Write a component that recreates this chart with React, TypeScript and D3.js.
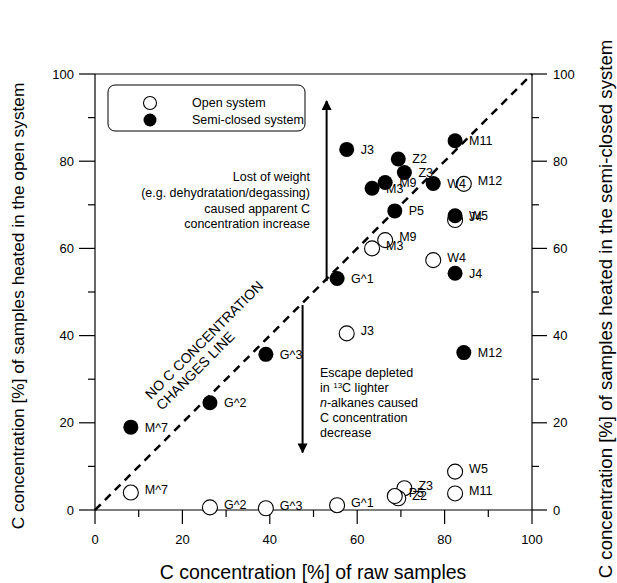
import React from "react";
import * as d3 from "d3";

const labels = ["M^7", "G^2", "G^3", "G^1", "J3", "M3", "M9", "W4", "J4", "M12", "W5", "M11", "Z3", "Z2", "P5"];
const rawC = [8.2, 26.3, 39.1, 55.4, 57.6, 63.4, 66.4, 77.4, 82.4, 84.4, 82.4, 82.4, 70.8, 69.4, 68.6];
const openC = [4.0, 0.6, 0.4, 1.1, 40.5, 60.0, 61.9, 57.3, 66.5, 74.8, 8.8, 3.8, 5.0, 2.7, 3.2];
const semiC = [19.0, 24.6, 35.7, 53.1, 82.7, 73.8, 75.1, 74.9, 54.3, 36.1, 67.5, 84.7, 77.4, 80.5, 68.6];
const majorTicks = [0, 20, 40, 60, 80, 100];
const minorTicks = [10, 30, 50, 70, 90];

const FONT = "'Liberation Sans', Arial, Helvetica, sans-serif";

export default function App() {
  const x = d3.scaleLinear().domain([0, 100]).range([95, 532]);
  const y = d3.scaleLinear().domain([0, 100]).range([510, 74]);
  const r = 7.5;
  const x0 = x(0), x1 = x(100), y0 = y(0), y1 = y(100);
  const diag = d3.line<number>().x((v) => x(v)).y((v) => y(v));

  return (
    <svg width={617} height={583} style={{ position: "absolute", left: 0, top: 0, background: "#fff" }} fontFamily={FONT}>
      <rect width={617} height={583} fill="#fff" />
      {/* frame lines */}
      <g stroke="#000" strokeWidth={1.2} fill="none">
        <line x1={x0} x2={x0} y1={y1} y2={y0} />
        <line x1={x1} x2={x1} y1={y1} y2={y0} />
        <line x1={x0} x2={x1} y1={y0} y2={y0} />
        <line x1={x0} x2={x1} y1={y1} y2={y1} />
        {majorTicks.map((t) => (
          <g key={"M" + t}>
            <line x1={x0 - 16} x2={x0} y1={y(t)} y2={y(t)} />
            <line x1={x1} x2={x1 + 15} y1={y(t)} y2={y(t)} />
            <line x1={x(t)} x2={x(t)} y1={y0} y2={y0 + 14} />
          </g>
        ))}
        {minorTicks.map((t) => (
          <g key={"m" + t}>
            <line x1={x0 - 7} x2={x0} y1={y(t)} y2={y(t)} />
            <line x1={x1} x2={x1 + 7} y1={y(t)} y2={y(t)} />
            <line x1={x(t)} x2={x(t)} y1={y0} y2={y0 + 7} />
          </g>
        ))}
      </g>
      {/* tick labels */}
      <g fontSize={13} fill="#000">
        {majorTicks.map((t) => (
          <g key={"tl" + t}>
            <text x={x0 - 21} y={y(t)} dy="0.35em" textAnchor="end">{t}</text>
            <text x={x1 + 21} y={y(t)} dy="0.35em" textAnchor="start">{t}</text>
            <text x={x(t)} y={y0 + 29} dy="0.35em" textAnchor="middle">{t}</text>
          </g>
        ))}
      </g>
      {/* axis titles */}
      <text x={313} y={579} fontSize={19.5} textAnchor="middle">C concentration [%] of raw samples</text>
      <text transform="translate(24,306) rotate(-90)" fontSize={17.3} textAnchor="middle">C concentration [%] of samples heated in the open system</text>
      <text transform="translate(612,309) rotate(-90)" fontSize={18.6} textAnchor="middle">C concentration [%] of samples heated in the semi-closed system</text>

      {/* 1:1 line */}
      <path d={diag([0, 100]) || ""} stroke="#000" strokeWidth={2.5} strokeDasharray="8,6" fill="none" />
      <g fontSize={14} textAnchor="start">
        <text transform="translate(151,400) rotate(-45)">NO C CONCENTRATION</text>
        <text transform="translate(162,411) rotate(-45)">CHANGES LINE</text>
      </g>

      {/* arrows */}
      <defs>
        <marker id="ah" viewBox="0 0 10 10" refX="9" refY="5" markerWidth="5" markerHeight="5" orient="auto" markerUnits="strokeWidth">
          <path d="M0,0 L10,5 L0,10 Z" fill="#000" />
        </marker>
      </defs>
      <line x1={x(53)} x2={x(53)} y1={y(52.5)} y2={y(93.8)} stroke="#000" strokeWidth={2} markerEnd="url(#ah)" />
      <line x1={x(47.5)} x2={x(47.5)} y1={y(47)} y2={y(13.2)} stroke="#000" strokeWidth={2} markerEnd="url(#ah)" />

      <g fontSize={12.5} textAnchor="end">
        <text x={310} y={181}>Lost of weight</text>
        <text x={310} y={197}>(e.g. dehydratation/degassing)</text>
        <text x={310} y={213}>caused apparent C</text>
        <text x={310} y={228}>concentration increase</text>
      </g>
      <g fontSize={12.5}>
        <text x={320} y={377}>Escape depleted</text>
        <text x={320} y={392}>in <tspan fontSize={8} dy={-4}>13</tspan><tspan dy={4}>C lighter</tspan></text>
        <text x={320} y={407}><tspan fontStyle="italic">n</tspan>-alkanes caused</text>
        <text x={320} y={422}>C concentration</text>
        <text x={320} y={437}>decrease</text>
      </g>

      {/* legend */}
      <rect x={108} y={85} width={197} height={46} rx={7} ry={7} fill="#fff" stroke="#000" strokeWidth={1} />
      <circle cx={150} cy={103} r={6.5} fill="#fff" stroke="#000" strokeWidth={1.1} />
      <circle cx={150} cy={120} r={6.5} fill="#000" />
      <text x={192} y={103} dy="0.35em" fontSize={12.5}>Open system</text>
      <text x={192} y={120} dy="0.35em" fontSize={12.5}>Semi-closed system</text>

      {/* points */}
      <g>
        {labels.map((l, i) => (
          <circle key={"o" + l} cx={x(rawC[i])} cy={y(openC[i])} r={r} fill="#fff" stroke="#000" strokeWidth={1.1} />
        ))}
        {labels.map((l, i) => (
          <text key={"ot" + l} x={x(rawC[i]) + 14} y={y(openC[i]) - 3} dy="0.35em" fontSize={12.5}>{l}</text>
        ))}
        {labels.map((l, i) => (
          <circle key={"s" + l} cx={x(rawC[i])} cy={y(semiC[i])} r={r} fill="#000" />
        ))}
        {labels.map((l, i) => (
          <text key={"st" + l} x={x(rawC[i]) + 14} y={y(semiC[i])} dy="0.35em" fontSize={12.5}>{l}</text>
        ))}
      </g>
    </svg>
  );
}
